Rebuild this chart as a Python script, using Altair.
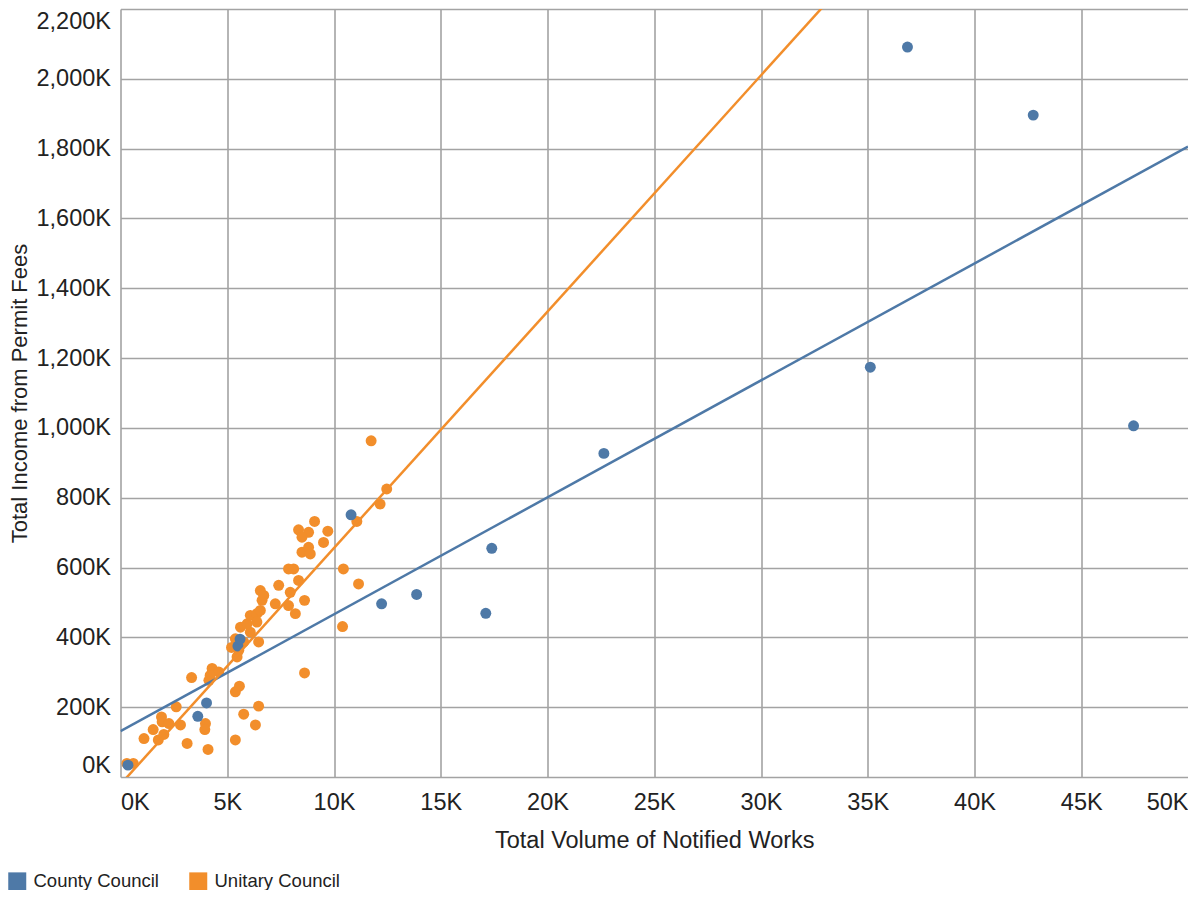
import altair as alt
import pandas as pd

# ---- data (values in units) ----
categories = ["County Council", "Unitary Council"]
colors = ["#4e79a7", "#f28e2b"]

county_x = [350, 3620, 4030, 5500, 5600, 10800, 12230, 13870, 17110, 17390,
            22640, 35120, 36860, 42750, 47450]
county_y = [34000, 174000, 212000, 375000, 395000, 751000, 496000, 523000,
            469000, 655000, 927000, 1174000, 2091000, 1896000, 1006000]

unitary_x = [300, 600, 1100, 1530, 1770, 1920, 2030, 1950, 2270, 2610, 2810,
             3120, 3330, 3980, 3950, 4100, 4290, 4140, 4600, 4200, 5380, 5380,
             5570, 5770, 6320, 6470, 5460, 5540, 5380, 5770, 6080, 6470, 5620,
             5930, 6080, 6390, 6550, 6390, 6630, 6550, 6710, 7410, 7250, 7870,
             8110, 8340, 7950, 8190, 7870, 8620, 8620, 9090, 8340, 8810, 8500,
             9710, 9510, 8500, 8810, 8890, 11070, 12160, 12470, 10440, 11150,
             11740, 10400, 5200]
unitary_y = [39000, 39000, 110000, 136000, 106000, 172000, 122000, 158000,
             153000, 201000, 149000, 96000, 285000, 153000, 136000, 79000,
             311000, 277000, 301000, 291000, 106000, 244000, 260000, 180000,
             149000, 203000, 344000, 363000, 396000, 387000, 415000, 387000,
             429000, 439000, 463000, 468000, 477000, 444000, 506000, 534000,
             520000, 549000, 496000, 596000, 596000, 563000, 529000, 468000,
             491000, 506000, 298000, 732000, 708000, 701000, 687000, 704000,
             672000, 644000, 658000, 639000, 732000, 782000, 825000, 596000,
             553000, 963000, 431000, 371000]

trend_x = [0, 50000]
county_trend_y = [131000, 1806000]
unitary_trend_y = [-21000, 3364000]

x_ticks = [0, 5000, 10000, 15000, 20000, 25000, 30000, 35000, 40000, 45000, 50000]
y_ticks = [0, 200000, 400000, 600000, 800000, 1000000, 1200000, 1400000,
           1600000, 1800000, 2000000, 2200000]

# ---- tables (unitary first so county dots sit on top) ----
points = pd.DataFrame({
    "type": [categories[1]] * len(unitary_x) + [categories[0]] * len(county_x),
    "volume": unitary_x + county_x,
    "income": unitary_y + county_y,
})
trend = pd.DataFrame({
    "type": [categories[0]] * 2 + [categories[1]] * 2,
    "volume": trend_x + trend_x,
    "income": county_trend_y + unitary_trend_y,
})

FONT = "Liberation Sans"
k_expr = "format(datum.value / 1000, ',') + 'K'"

x_enc = alt.X(
    "volume:Q",
    scale=alt.Scale(domain=[0, 50000], nice=False, zero=False),
    axis=alt.Axis(values=x_ticks, labelExpr=k_expr,
                  title="Total Volume of Notified Works",
                  titleFontSize=23.5,
                  labelPadding=13, titlePadding=15),
)
y_enc = alt.Y(
    "income:Q",
    scale=alt.Scale(domain=[0, 2200000], nice=False, zero=False),
    axis=alt.Axis(values=y_ticks, labelExpr=k_expr,
                  title="Total Income from Permit Fees",
                  titleFontSize=22,
                  labelPadding=10, titlePadding=5),
)
color_scale = alt.Scale(domain=categories, range=colors)

pts = alt.Chart(points).mark_circle(size=120, opacity=1).encode(
    x=x_enc,
    y=y_enc,
    color=alt.Color(
        "type:N", scale=color_scale,
        legend=alt.Legend(
            title=None, orient="none", direction="horizontal",
            legendX=-112.5, legendY=863, padding=0,
            symbolType="square", symbolSize=324, symbolStrokeWidth=0,
            symbolOpacity=1,
            labelFontSize=18.5, labelFont=FONT, labelColor="#222222",
            labelOffset=7, columnPadding=30,
        ),
    ),
)

lines = alt.Chart(trend).mark_line(clip=True, strokeWidth=2.5).encode(
    x=alt.X("volume:Q"),
    y=alt.Y("income:Q"),
    color=alt.Color("type:N", scale=color_scale, legend=None),
    detail="type:N",
)

chart = (
    alt.layer(pts, lines)
    .properties(
        width=1067.5,
        height=768,
        padding={"left": 112.5, "top": 1, "right": 0, "bottom": 113},
        autosize=alt.AutoSizeParams(type="none"),
    )
    .configure_view(stroke=None)
    .configure_axis(
        labelFont=FONT, titleFont=FONT,
        labelFontSize=23.5,
        labelColor="#222222", titleColor="#222222",
        titleFontWeight="normal",
        gridColor="#a3a3a3", gridWidth=1.6,
        domain=False, ticks=False, labelFlush=True,
    )
)

chart.save("out.html", embed_options={"renderer": "svg", "actions": False})
